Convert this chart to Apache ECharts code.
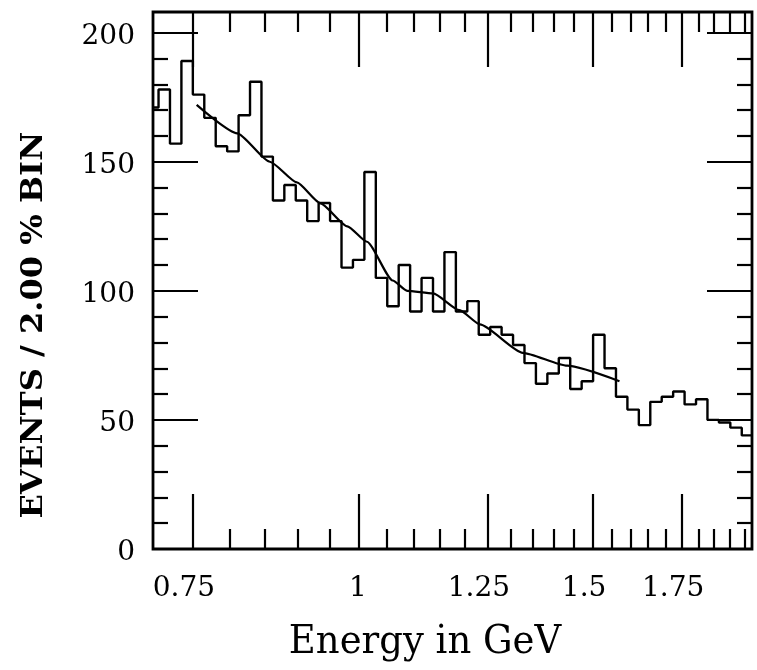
<!DOCTYPE html>
<html><head><meta charset="utf-8">
<script src="https://cdn.jsdelivr.net/npm/echarts@6/dist/echarts.min.js"></script>
<style>html,body{margin:0;padding:0;background:#fff}#c{width:757px;height:670px}</style>
</head><body><div id="c"></div>
<script>
// ---- data ----
const xMinE = 0.70, xMaxE = 1.975;
const yMin = 0, yMax = 208;
const binFirstEdge = 0.75;   // one bin edge (GeV)
const binRatio = 1.02;       // 2.00 % bins
const firstBinIndex = -4;    // first (partial) bin index relative to binFirstEdge
const binCounts = [171, 178, 157, 189, 176, 167, 156, 154, 168, 181,
                   152, 135, 141, 135, 127, 134, 127, 109, 112, 146,
                   105, 94, 110, 92, 105, 92, 115, 92, 96, 83,
                   86, 83, 79, 72, 64, 68, 74, 62, 65, 83,
                   70, 59, 54, 48, 57, 59, 61, 56, 58, 50,
                   49, 47, 44];
const fitEnergy = [0.755, 0.81, 0.857, 0.898, 0.935, 0.98, 1.014, 1.06, 1.087, 1.137, 1.19, 1.233, 1.328, 1.434, 1.57];
const fitValue  = [172, 161, 150, 142, 134, 125, 119, 104, 100, 99, 92.5, 87, 76, 71, 65];
const xMajorTicks = [0.75, 1, 1.25, 1.5, 1.75];
const xMajorLabels = ['0.75', '1', '1.25', '1.5', '1.75'];
const xMinorTicks = [0.8, 0.85, 0.9, 0.95, 1.05, 1.1, 1.15, 1.2, 1.3, 1.35, 1.4, 1.45, 1.55, 1.6, 1.65, 1.7, 1.8, 1.85, 1.9, 1.95];
const yMajorTicks = [0, 50, 100, 150, 200];
const yMinorTicks = [10, 20, 30, 40, 60, 70, 80, 90, 110, 120, 130, 140, 160, 170, 180, 190];
const xTitle = 'Energy in GeV';
const yTitle = 'EVENTS / 2.00 % BIN';

// ---- build ----
const ln = Math.log;
const histData = [];
for (let i = 0; i < binCounts.length; i++) {
  const lo = binFirstEdge * Math.pow(binRatio, firstBinIndex + i);
  histData.push([ln(Math.max(lo, xMinE)), binCounts[i]]);
}
const lastHi = binFirstEdge * Math.pow(binRatio, firstBinIndex + binCounts.length);
histData.push([ln(Math.min(lastHi, xMaxE)), binCounts[binCounts.length - 1]]);
const fitData = fitEnergy.map((e, i) => [ln(e), fitValue[i]]);

const FONT = 'DejaVu Serif';
const tickStyle = {color: '#000', width: 2.2};

function xAx(pos, ticks, len, withLabels) {
  return {
    type: 'value', gridIndex: 0, position: pos,
    min: ln(xMinE), max: ln(xMaxE),
    splitLine: {show: false}, axisLine: {show: false, onZero: false},
    axisTick: {show: true, inside: true, length: len, customValues: ticks.map(ln), lineStyle: tickStyle},
    axisLabel: withLabels ? {
      show: true, margin: 26, customValues: ticks.map(ln),
      formatter: function (v) {
        for (let i = 0; i < xMajorTicks.length; i++) {
          if (Math.abs(ln(xMajorTicks[i]) - v) < 1e-6) {
            return xMajorLabels[i] === '1' ? '{one|1}' : '{n|' + xMajorLabels[i] + '}';
          }
        }
        return '';
      },
      rich: {
        n: {fontFamily: FONT, fontSize: 28, color: '#000', padding: [0, 18, 0, 0]},
        one: {fontFamily: FONT, fontSize: 28, color: '#000', padding: [0, 2, 0, 0]}
      }
    } : {show: false}
  };
}
function yAx(pos, ticks, len, withLabels) {
  return {
    type: 'value', gridIndex: 0, position: pos,
    min: yMin, max: yMax,
    splitLine: {show: false}, axisLine: {show: false, onZero: false},
    axisTick: {show: true, inside: true, length: len, customValues: ticks, lineStyle: tickStyle},
    axisLabel: withLabels ? {
      show: true, margin: 18, customValues: ticks,
      formatter: v => '{v|' + String(Math.round(v)) + '}',
      rich: {v: {fontFamily: FONT, fontSize: 28, color: '#000', padding: [8, 0, 0, 0]}}
    } : {show: false}
  };
}

const chart = echarts.init(document.getElementById('c'), null, {renderer: 'canvas'});
chart.setOption({
  animation: false,
  backgroundColor: '#fff',
  grid: {left: 153, top: 12, width: 599, height: 537, show: true, borderColor: '#000', borderWidth: 2.8, backgroundColor: 'transparent'},
  xAxis: [
    xAx('bottom', xMajorTicks, 55, true),
    xAx('bottom', xMinorTicks, 20, false),
    xAx('top', xMajorTicks, 55, false),
    xAx('top', xMinorTicks, 20, false)
  ],
  yAxis: [
    yAx('left', yMajorTicks, 45, true),
    yAx('left', yMinorTicks, 15, false),
    yAx('right', yMajorTicks, 45, false),
    yAx('right', yMinorTicks, 15, false)
  ],
  graphic: [
    {type: 'text', x: 425, y: 643, scaleY: 1.08,
     style: {text: xTitle, fontFamily: FONT, fontSize: 37, fill: '#000', align: 'center', verticalAlign: 'middle'}},
    {type: 'text', x: 34, y: 325, rotation: Math.PI / 2, scaleX: 1.07,
     style: {text: yTitle, fontFamily: FONT, fontWeight: 'bold', fontSize: 30, fill: '#000', align: 'center', verticalAlign: 'middle'}}
  ],
  series: [
    {type: 'line', name: 'data', xAxisIndex: 0, yAxisIndex: 0, step: 'end', data: histData,
     showSymbol: false, symbol: 'none', clip: true,
     lineStyle: {color: '#000', width: 2.4}},
    {type: 'line', name: 'fit', xAxisIndex: 0, yAxisIndex: 0, data: fitData,
     smooth: 0.2, smoothMonotone: 'x', showSymbol: false, symbol: 'none', clip: true,
     lineStyle: {color: '#000', width: 2.2}}
  ]
});
</script></body></html>
